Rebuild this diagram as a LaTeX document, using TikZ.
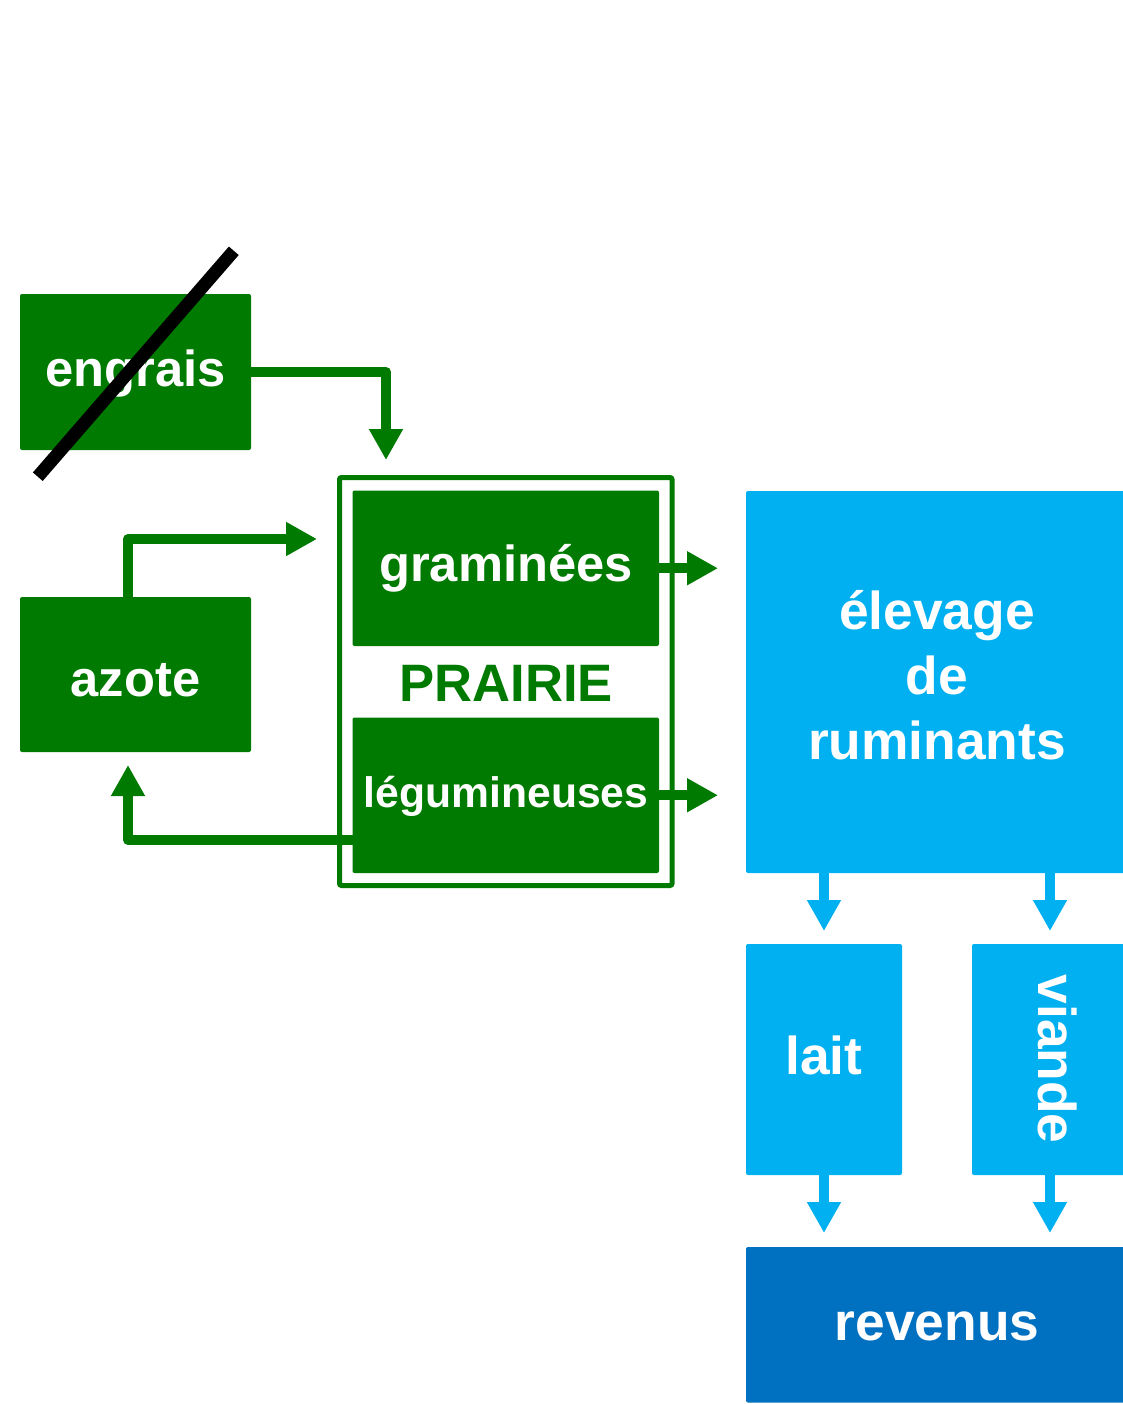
\documentclass[tikz,border=0pt]{standalone}
\usepackage{fontspec}
\setmainfont{Liberation Sans}
\usetikzlibrary{arrows.meta,fit}
\definecolor{herb}{RGB}{0,122,0}
\definecolor{sky}{RGB}{0,176,240}
\definecolor{deep}{RGB}{0,112,192}

\begin{document}
\begin{tikzpicture}[x=0.75pt,y=-0.75pt,
  cell/.style={inner sep=0pt, outer sep=0pt, rounded corners=1.5pt, draw=none},
  gcell/.style={cell, fill=herb},
  bcell/.style={cell, fill=sky},
  dcell/.style={cell, fill=deep},
  frame/.style={inner sep=0pt, outer sep=0pt, draw=herb, line width=3.75pt, rounded corners=1.5pt},
  txt/.style={text=white, inner sep=0pt, outer sep=0pt, anchor=base},
  gtxt/.style={txt, font=\bfseries\fontsize{38pt}{45pt}\selectfont},
  btxt/.style={txt, font=\bfseries\fontsize{40pt}{48.4pt}\selectfont},
  flow/.style={line width=7.5pt, line join=round, -{Triangle[length=23.25pt,width=24pt]}},
  gflow/.style={flow, color=herb},
  bflow/.style={flow, color=sky}
]
\clip (0,0) rectangle (1123,1404);

% prairie frame and its two plant groups
\node[frame, fit={(339.5,477.5)(672,885.5)}] (prairie) {};
\node[gcell, fit={(352.5,490.5)(659,646)}] (gram) {};
\node[gcell, fit={(352.5,717.5)(659,873)}] (legum) {};

% inputs
\node[gcell, fit={(20,294)(251,450)}] (engrais) {};
\node[gcell, fit={(20,597)(251,752)}] (azote) {};

% livestock and outputs
\node[bcell, fit={(746,491)(1128,873)}] (elevage) {};
\node[bcell, fit={(746,944)(902,1175)}] (lait) {};
\node[bcell, fit={(972,944)(1128,1175)}] (viande) {};
\node[dcell, fit={(746,1247)(1128,1402.5)}] (revenus) {};

% green flows
\coordinate (fertIn) at (386,460);
\draw[gflow] (engrais.east) -| (fertIn);
\coordinate (nIn) at (317,539);
\draw[gflow] ([xshift=-5.6pt]azote.north) |- (nIn);
\coordinate (nBack) at (128,765);
\draw[gflow] ([yshift=-33.5pt]legum.west) -| (nBack);
\draw[gflow, shorten >=21pt] (gram.east) -- (gram.east -| elevage.west);
\draw[gflow, shorten >=21pt] (legum.east) -- (legum.east -| elevage.west);

% blue flows
\draw[bflow, shorten >=9.75pt] (lait.north |- elevage.south) -- (lait.north);
\draw[bflow, shorten >=9.75pt] (viande.north |- elevage.south) -- (viande.north);
\draw[bflow, shorten >=10.5pt] (lait.south) -- (lait.south |- revenus.north);
\draw[bflow, shorten >=10.5pt] (viande.south) -- (viande.south |- revenus.north);

% labels
\node[gtxt] (engraisT) at (135.5,386) {engrais};
\node[gtxt] (azoteT) at (135.5,696) {azote};
\node[gtxt] (gramT) at (506,581.5) {graminées};
\node[txt, font=\bfseries\fontsize{32pt}{38pt}\selectfont] (legumT) at (506,807) {légumineuses};
\node[txt, text=herb, font=\bfseries\fontsize{39.5pt}{45pt}\selectfont] (prairieT) at (506,701.5) {PRAIRIE};
\node[btxt, align=center] (elevT) at (937,759) {élevage\\de\\ruminants};
\node[btxt] (laitT) at (824,1074.3) {lait};
\node[btxt, rotate=-90] (viandeT) at (1038,1059) {viande};
\node[btxt] (revT) at (937,1340) {revenus};

% fertiliser crossed out
\coordinate (slashA) at (37.8,476.7);
\coordinate (slashB) at (233.8,250.8);
\draw[line width=9.75pt, black] (slashA) -- (slashB);
\end{tikzpicture}
\end{document}
